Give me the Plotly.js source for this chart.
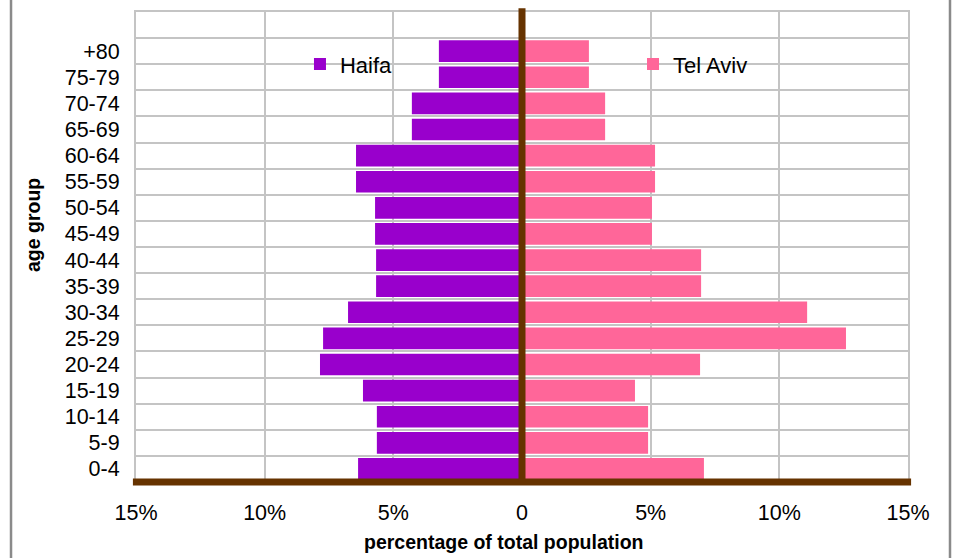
<!DOCTYPE html>
<html>
<head>
<meta charset="utf-8">
<script src="https://cdn.plot.ly/plotly-3.0.1.min.js"></script>
<style>
  html, body { margin: 0; padding: 0; background: #ffffff; }
  #chart { width: 955px; height: 558px; }
</style>
</head>
<body>
<div id="chart"></div>
<script>
// Age groups, youngest at the bottom
const ageGroups = ['0-4', '5-9', '10-14', '15-19', '20-24', '25-29', '30-34', '35-39',
                   '40-44', '45-49', '50-54', '55-59', '60-64', '65-69', '70-74', '75-79', '+80'];

// Share of total population (%) per age group
const haifa   = [6.37, 5.64, 5.64, 6.18, 7.85, 7.73, 6.76, 5.67,
                 5.67, 5.71, 5.71, 6.45, 6.45, 4.28, 4.28, 3.23, 3.23];
const telAviv = [7.07, 4.90, 4.90, 4.39, 6.92, 12.59, 11.08, 6.96,
                 6.96, 5.05, 5.05, 5.17, 5.17, 3.23, 3.23, 2.60, 2.60];

// Percentage axis ticks (left side shown as positive values)
const xTickVals = [-15, -10, -5, 0, 5, 10, 15];
const xTickText = ['15%', '10%', '5%', '0', '5%', '10%', '15%'];

// Axis titles
const xTitle = 'percentage of total population';
const yTitle = 'age group';

const FONT = 'Liberation Sans, Arial, sans-serif';
const GRID = '#c4c4c4';
const BROWN = '#663300';
const titleFont = { family: FONT, size: 19.5, color: '#000000', weight: 'bold' };

const traces = [
  {
    type: 'bar', orientation: 'h', name: 'Haifa',
    y: ageGroups, x: haifa.map(v => -v),
    marker: { color: '#9900cc' },
    legend: 'legend',
    hoverinfo: 'skip'
  },
  {
    type: 'bar', orientation: 'h', name: 'Tel Aviv',
    y: ageGroups, x: telAviv,
    marker: { color: '#ff6699' },
    legend: 'legend2',
    hoverinfo: 'skip'
  }
];

const legendStyle = {
  orientation: 'h',
  xanchor: 'left',
  y: 0.889, yanchor: 'middle',
  bgcolor: 'rgba(0,0,0,0)',
  borderwidth: 0,
  font: { family: FONT, size: 22, color: '#000000' }
};

const layout = {
  width: 955, height: 558,
  margin: { l: 136, r: 47, t: 12, b: 76, autoexpand: false },
  paper_bgcolor: '#ffffff',
  plot_bgcolor: '#ffffff',
  barmode: 'overlay',
  bargap: 0.17,
  showlegend: true,
  font: { family: FONT, color: '#000000', size: 21.5 },
  xaxis: {
    range: [-15, 15],
    tickmode: 'array', tickvals: xTickVals, ticktext: xTickText,
    showgrid: true, gridcolor: GRID, gridwidth: 2,
    zeroline: false,
    showline: true, mirror: true, linecolor: GRID, linewidth: 2,
    ticks: '', ticklabelstandoff: 10,
    tickfont: { family: FONT, size: 21.5, color: '#000000' },
    fixedrange: true
  },
  yaxis: {
    type: 'category',
    categoryorder: 'array', categoryarray: ageGroups,
    range: [-0.5, 17.5],
    tickson: 'boundaries',
    showgrid: true, gridcolor: GRID, gridwidth: 2,
    zeroline: false,
    showline: true, mirror: true, linecolor: GRID, linewidth: 2,
    ticks: '', ticklabelstandoff: 10,
    tickfont: { family: FONT, size: 21.5, color: '#000000' },
    fixedrange: true
  },
  legend: Object.assign({ x: 0.2124 }, legendStyle),
  legend2: Object.assign({ x: 0.6438 }, legendStyle),
  annotations: [
    { text: xTitle, xref: 'paper', yref: 'paper', x: 0.4767, y: -0.1277,
      xanchor: 'center', yanchor: 'middle', showarrow: false, font: titleFont },
    { text: yTitle, xref: 'paper', yref: 'paper', x: -0.1334, y: 0.5468,
      xanchor: 'center', yanchor: 'middle', textangle: -90, showarrow: false, font: titleFont }
  ],
  shapes: [
    // white panel behind the legend, over the grid but under the bars
    { type: 'rect', xref: 'paper', yref: 'paper', layer: 'between',
      x0: 0.066, x1: 0.956, y0: 0.851, y1: 0.923,
      fillcolor: '#ffffff', line: { width: 0 } },
    // brown base line
    { type: 'line', xref: 'paper', yref: 'paper', layer: 'above',
      x0: -0.004, x1: 1.004, y0: 0, y1: 0,
      line: { color: BROWN, width: 7 } },
    // brown centre line at 0
    { type: 'line', xref: 'x', yref: 'paper', layer: 'above',
      x0: 0, x1: 0, y0: 0, y1: 1.008,
      line: { color: BROWN, width: 7 } },
    // outer frame sides
    { type: 'line', xref: 'paper', yref: 'paper', layer: 'above',
      x0: -0.1619, x1: -0.1619, y0: -0.3, y1: 1.1,
      line: { color: '#8a8a8a', width: 2.5 } },
    { type: 'line', xref: 'paper', yref: 'paper', layer: 'above',
      x0: 1.0544, x1: 1.0544, y0: -0.3, y1: 1.1,
      line: { color: '#8a8a8a', width: 2.5 } }
  ]
};

Plotly.newPlot('chart', traces, layout, { displayModeBar: false, staticPlot: true });
</script>
</body>
</html>
